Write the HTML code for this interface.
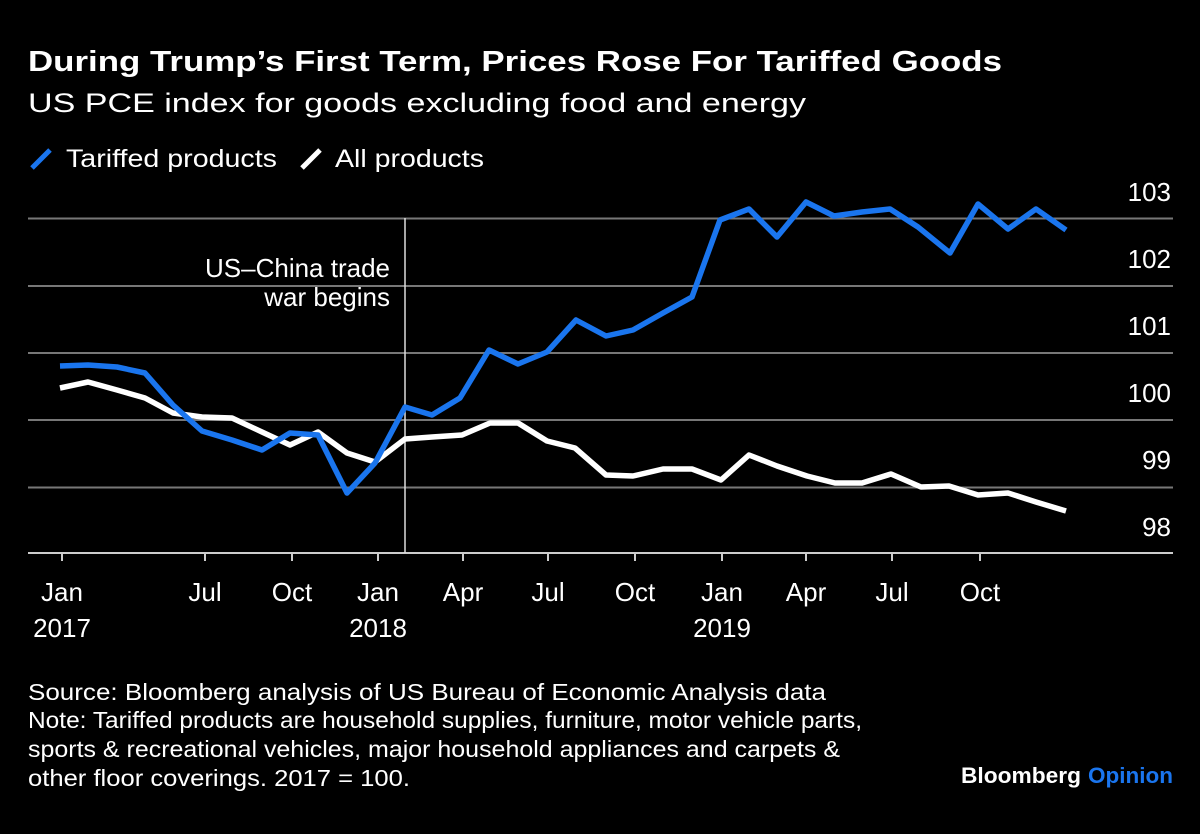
<!DOCTYPE html>
<html><head><meta charset="utf-8"><style>
html,body{margin:0;padding:0;background:#000;}
svg{display:block;font-family:"Liberation Sans",Arial,sans-serif;}
</style></head><body>
<svg width="1200" height="834" viewBox="0 0 1200 834" xmlns="http://www.w3.org/2000/svg">
<rect width="1200" height="834" fill="#000"/>
<text x="28" y="71" fill="#fff" font-size="29" font-weight="bold" textLength="974" lengthAdjust="spacingAndGlyphs">During Trump’s First Term, Prices Rose For Tariffed Goods</text>
<text x="28" y="112" fill="#fff" font-size="27" textLength="778" lengthAdjust="spacingAndGlyphs">US PCE index for goods excluding food and energy</text>
<line x1="32" y1="168" x2="50" y2="150" stroke="#1a75ee" stroke-width="5"/>
<text x="66" y="167" fill="#fff" font-size="25" textLength="211" lengthAdjust="spacingAndGlyphs">Tariffed products</text>
<line x1="302" y1="168" x2="320" y2="150" stroke="#fff" stroke-width="5"/>
<text x="335" y="167" fill="#fff" font-size="25" textLength="149" lengthAdjust="spacingAndGlyphs">All products</text>
<g stroke="#777" stroke-width="2">
<line x1="28" y1="218.5" x2="1173" y2="218.5"/>
<line x1="28" y1="286" x2="1173" y2="286"/>
<line x1="28" y1="353" x2="1173" y2="353"/>
<line x1="28" y1="420" x2="1173" y2="420"/>
<line x1="28" y1="487.5" x2="1173" y2="487.5"/>
</g>
<line x1="28" y1="553" x2="1173" y2="553" stroke="#ccc" stroke-width="2"/>
<g stroke="#ccc" stroke-width="2">
<line x1="62" y1="553" x2="62" y2="561"/><line x1="205" y1="553" x2="205" y2="561"/><line x1="292" y1="553" x2="292" y2="561"/><line x1="378" y1="553" x2="378" y2="561"/><line x1="463" y1="553" x2="463" y2="561"/><line x1="548" y1="553" x2="548" y2="561"/><line x1="635" y1="553" x2="635" y2="561"/><line x1="722" y1="553" x2="722" y2="561"/><line x1="806" y1="553" x2="806" y2="561"/><line x1="892" y1="553" x2="892" y2="561"/><line x1="980" y1="553" x2="980" y2="561"/>
</g>
<line x1="405" y1="218" x2="405" y2="553" stroke="#ddd" stroke-width="1.5"/>
<g fill="#fff" font-size="26" text-anchor="end">
<text x="1171" y="201">103</text><text x="1171" y="268">102</text><text x="1171" y="335">101</text><text x="1171" y="402">100</text><text x="1171" y="469">99</text><text x="1171" y="536">98</text>
<text x="390" y="277">US–China trade</text><text x="390" y="306">war begins</text>
</g>
<g fill="#fff" font-size="26" text-anchor="middle">
<text x="62" y="601">Jan</text><text x="62" y="637">2017</text>
<text x="205" y="601">Jul</text><text x="292" y="601">Oct</text>
<text x="378" y="601">Jan</text><text x="378" y="637">2018</text>
<text x="463" y="601">Apr</text><text x="548" y="601">Jul</text><text x="635" y="601">Oct</text>
<text x="722" y="601">Jan</text><text x="722" y="637">2019</text>
<text x="806" y="601">Apr</text><text x="892" y="601">Jul</text><text x="980" y="601">Oct</text>
</g>
<polyline fill="none" stroke="#fff" stroke-width="5.5" stroke-linejoin="round" points="60,388 88,382 117,390 145,398 173,413 202,417 232,418 262,432 290,445 318,432 347,453 375,462 405,439 432,437 462,435 490,423 518,423 547,441 575,448 606,475 633,476 663,469 692,469 721,480 749,455 777,466 807,476 835,483 862,483 891,474 921,487 949,486 978,495 1008,493 1036,502 1066,511"/>
<polyline fill="none" stroke="#1a75ee" stroke-width="5.5" stroke-linejoin="round" points="60,366 88,365 117,367 145,373 173,405 202,431 232,440 262,450 290,433 318,435 347,493 375,463 405,407 432,415 460,398 489,350 518,364 547,352 576,320 606,336 633,330 663,313 692,297 720,220 749,209 777,237 806,202 834,216 862,212 890,209 918,227 950,253 978,204 1008,229 1036,209 1066,230"/>
<g fill="#fff" font-size="23">
<text x="28" y="700" textLength="798" lengthAdjust="spacingAndGlyphs">Source: Bloomberg analysis of US Bureau of Economic Analysis data</text>
<text x="28" y="728" textLength="834" lengthAdjust="spacingAndGlyphs">Note: Tariffed products are household supplies, furniture, motor vehicle parts,</text>
<text x="28" y="757" textLength="812" lengthAdjust="spacingAndGlyphs">sports &amp; recreational vehicles, major household appliances and carpets &amp;</text>
<text x="28" y="786" textLength="382" lengthAdjust="spacingAndGlyphs">other floor coverings. 2017 = 100.</text>
</g>
<text x="961" y="783" fill="#fff" font-size="22" font-weight="bold" textLength="120" lengthAdjust="spacingAndGlyphs">Bloomberg</text>
<text x="1088" y="783" fill="#1a75ee" font-size="22" font-weight="bold" textLength="85" lengthAdjust="spacingAndGlyphs">Opinion</text>
</svg>
</body></html>
